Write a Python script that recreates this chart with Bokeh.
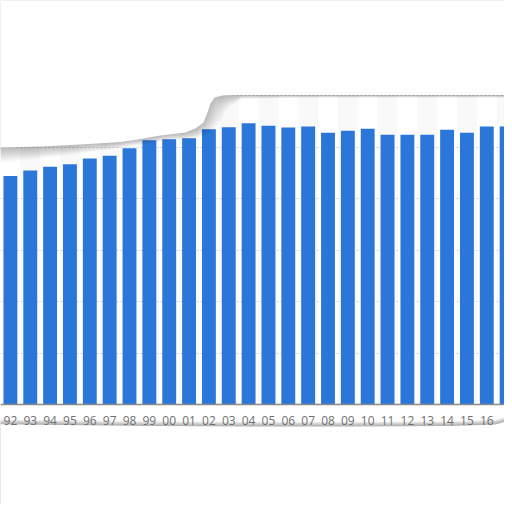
from bokeh.plotting import figure
from bokeh.models import Range1d, FixedTicker, SingleIntervalTicker
from bokeh.embed import file_html
from bokeh.resources import INLINE

# ---- data ----
years = ["92", "93", "94", "95", "96", "97", "98", "99", "00", "01", "02", "03", "04",
         "05", "06", "07", "08", "09", "10", "11", "12", "13", "14", "15", "16", "17"]
values = [88.7, 90.9, 92.3, 93.3, 95.5, 96.6, 99.5, 102.6, 103.0, 103.4, 106.9, 107.7, 109.2,
          108.3, 107.6, 108.0, 105.5, 106.3, 107.1, 104.8, 104.8, 104.8, 106.7, 105.5, 108.0, 108.0]
grid_step = 20

BAR_COLOR = "#2b77d9"

# ---- layout (reference px -> data) ----
X0, DX = 9.9, 19.85       # centre of first bar, bar spacing (px)
Y0, DY = 404.0, 51.5 / grid_step  # baseline (px), px per unit


def px_x(X):
    return (X - X0) / DX


def px_y(Y):
    return (Y0 - Y) / DY


W = H = 504
p = figure(width=W, height=H, output_backend="svg", toolbar_location=None,
           x_range=Range1d(px_x(0), px_x(W)), y_range=Range1d(px_y(H), px_y(0)),
           min_border=0, outline_line_color=None, background_fill_color="white",
           border_fill_color="white")
p.yaxis.visible = False

xs = list(range(len(years)))

# faint alternating column bands
band_x = [i for i in xs if i % 2 == 1]
p.vbar(x=band_x, width=1.0, bottom=0, top=px_y(60), fill_color="black", fill_alpha=0.022,
       line_color=None)

# bars
p.vbar(x=xs, width=0.7, bottom=0, top=values, fill_color=BAR_COLOR, line_color=None)

# grid
p.xgrid.visible = False
p.ygrid.ticker = SingleIntervalTicker(interval=grid_step)
p.ygrid.grid_line_color = "#cfd6df"
p.ygrid.grid_line_dash = "2 2"
p.ygrid.grid_line_width = 1

# x axis at value 0
ax = p.xaxis[0]
ax.fixed_location = 0
ax.ticker = FixedTicker(ticks=xs)
ax.major_label_overrides = {i: y for i, y in zip(xs, years)}
ax.major_tick_line_color = None
ax.minor_tick_line_color = None
ax.axis_line_color = "#8a8a8a"
ax.axis_line_width = 1.5
ax.major_label_text_font = "Open Sans"
ax.major_label_text_font_size = "12px"
ax.major_label_text_color = "#707070"
ax.major_label_standoff = 5

# ---- torn-paper decoration (reference px: X, Y, shadow dx, shadow dy) ----
top_edge = [(-10, 147.5, 0, 15), (0, 147, 0, 15), (40, 146, 0, 12), (80, 144, 0, 9),
            (120, 141.5, 0, 6), (140, 138.5, 0, 6), (160, 135, 0, 6), (185, 132, 0, 7),
            (195, 128, 3, 9), (203, 122, 6, 12), (207, 112, 9, 15), (210, 103, 11, 17),
            (214, 97, 10, 16), (222, 95, 7, 11), (240, 94.5, 2, 4), (300, 94.5, 0, 3),
            (520, 94.5, 0, 3)]
bottom_edge = [(-10, 423.5, 0, -5), (60, 424.5, 0, -5), (150, 425.5, 0, -5),
               (250, 426, 0, -5), (350, 426, 0, -5), (450, 425.5, 0, -5),
               (495, 424, 0, -5), (505, 421, 0, -5), (520, 420, 0, -5)]

N = 10
for k in range(N, 0, -1):
    f = k / N
    pts = [(X + dx * f, Y + dy * f) for X, Y, dx, dy in top_edge] + [(530, -30), (-30, -30)]
    p.patch([px_x(a) for a, b in pts], [px_y(b) for a, b in pts], fill_color="black",
            fill_alpha=0.028, line_color=None)
pts = [(X, Y) for X, Y, dx, dy in top_edge] + [(530, -30), (-30, -30)]
p.patch([px_x(a) for a, b in pts], [px_y(b) for a, b in pts], fill_color="white",
        line_color=None)

for k in range(N, 0, -1):
    f = k / N
    pts = [(X + dx * f, Y + dy * f) for X, Y, dx, dy in bottom_edge] + [(530, 560), (-30, 560)]
    p.patch([px_x(a) for a, b in pts], [px_y(b) for a, b in pts], fill_color="black",
            fill_alpha=0.035, line_color=None)
pts = [(X, Y) for X, Y, dx, dy in bottom_edge] + [(530, 560), (-30, 560)]
p.patch([px_x(a) for a, b in pts], [px_y(b) for a, b in pts], fill_color="white",
        line_color=None)

open("out.html", "w").write(file_html(p, INLINE))
